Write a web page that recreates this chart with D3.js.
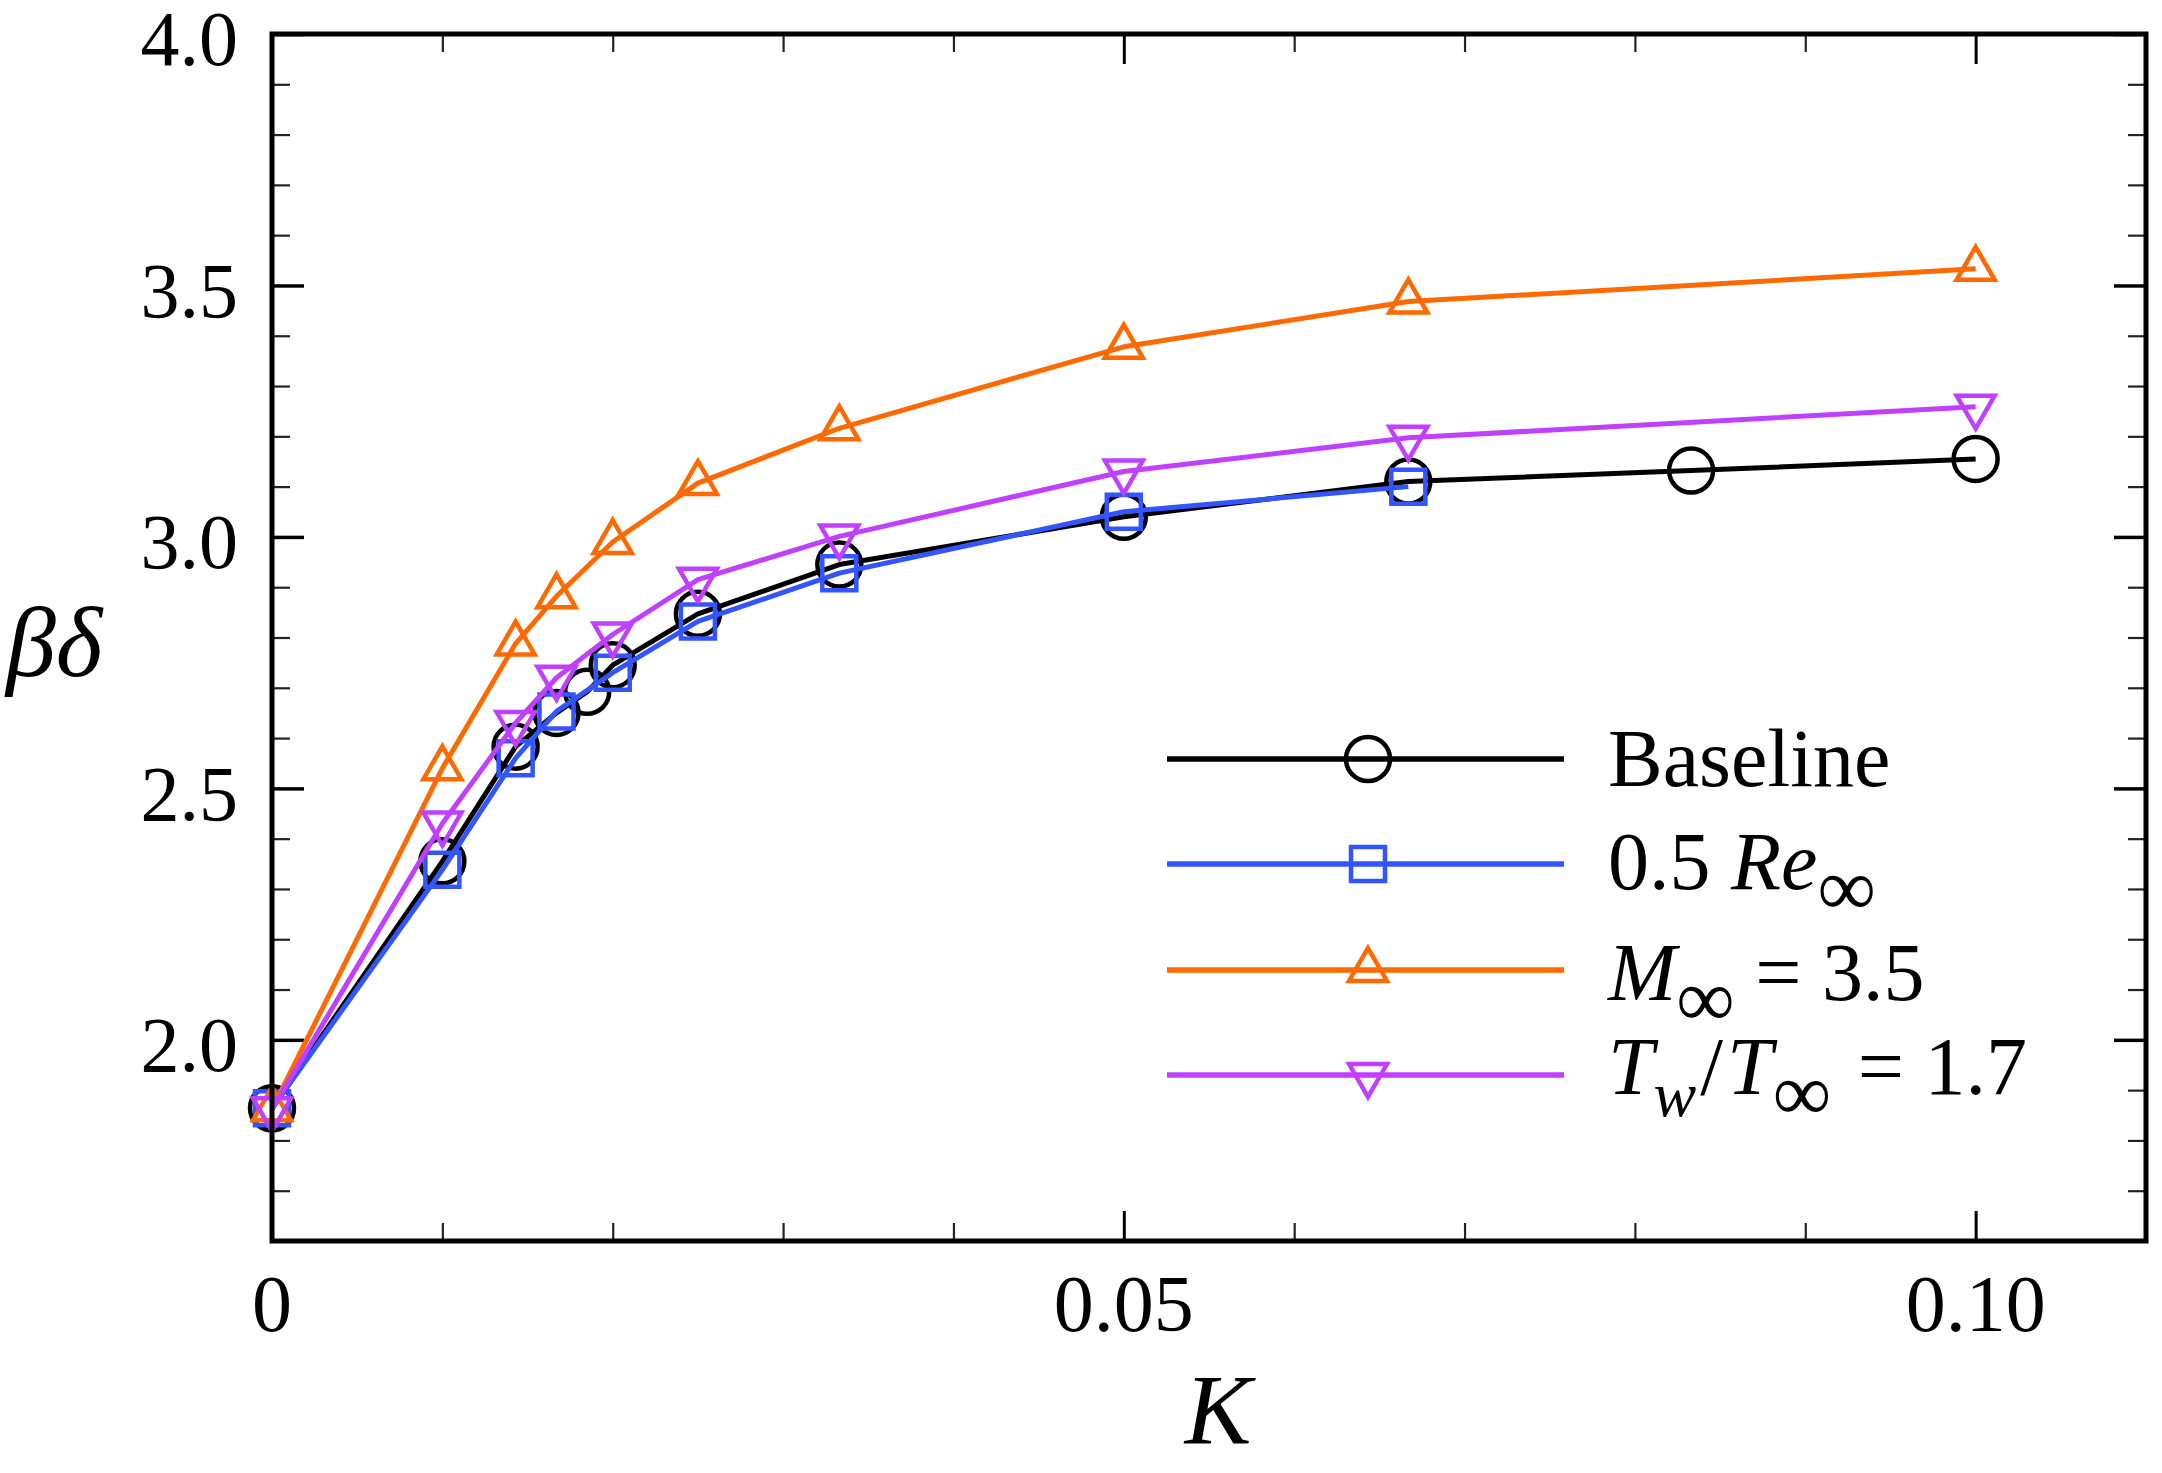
<!DOCTYPE html>
<html>
<head>
<meta charset="utf-8">
<script src="https://cdn.jsdelivr.net/npm/d3@7"></script>
<style>
  body { margin: 0; background: #fff; }
  text { font-family: "Liberation Serif", "Times New Roman", serif; fill: #000; }
</style>
</head>
<body>
<div id="chart"></div>
<script>
// curvature parameter K for each case
const kBaseline = [0, 0.01, 0.0143, 0.0167, 0.0185, 0.02, 0.025, 0.0333, 0.05, 0.0667, 0.0833, 0.1];
const vBaseline = [1.864, 2.355, 2.583, 2.650, 2.692, 2.745, 2.847, 2.945, 3.040, 3.110, 3.132, 3.155];

const kHalfRe = [0, 0.01, 0.0143, 0.0167, 0.02, 0.025, 0.0333, 0.05, 0.0667];
const vHalfRe = [1.864, 2.338, 2.560, 2.653, 2.730, 2.832, 2.928, 3.050, 3.100];

const kMach = [0, 0.01, 0.0143, 0.0167, 0.02, 0.025, 0.0333, 0.05, 0.0667, 0.1];
const vMach = [1.862, 2.540, 2.788, 2.882, 2.990, 3.107, 3.216, 3.378, 3.468, 3.533];

const kWall = [0, 0.01, 0.0143, 0.0167, 0.02, 0.025, 0.0333, 0.05, 0.0667, 0.1];
const vWall = [1.862, 2.430, 2.630, 2.720, 2.806, 2.915, 3.001, 3.130, 3.197, 3.259];

const xTickLabels = ["0", "0.05", "0.10"];
const yTickLabels = ["2.0", "2.5", "3.0", "3.5", "4.0"];

const series = [
    { k: kBaseline, v: vBaseline, color: "#000000", marker: "circle" },
    { k: kHalfRe, v: vHalfRe, color: "#3355ff", marker: "square" },
    { k: kMach, v: vMach, color: "#ff6a00", marker: "up" },
    { k: kWall, v: vWall, color: "#c040ff", marker: "down" }
];

const W = 2162, H = 1473;
const plot = { left: 272, right: 2146, top: 34, bottom: 1241 };

const svg = d3.select("#chart").append("svg")
    .attr("width", W)
    .attr("height", H);

const x = d3.scaleLinear().domain([0, 0.11]).range([plot.left, plot.right]);
const y = d3.scaleLinear().domain([1.6, 4.0]).range([plot.bottom, plot.top]);

// ticks, all pointing inward
const xMajor = [0, 0.05, 0.1];
const xMinor = d3.range(1, 11).map(i => i / 100).filter(v => Math.abs(v - 0.05) > 1e-9 && Math.abs(v - 0.1) > 1e-9);
const yMajor = [2.0, 2.5, 3.0, 3.5, 4.0];
const yMinor = d3.range(17, 40).map(i => i / 10).filter(v => Math.abs(v * 2 - Math.round(v * 2)) > 1e-9);

function tickGroup(axis, transform, width, color) {
    const g = svg.append("g").attr("transform", transform).call(axis);
    g.select(".domain").remove();
    g.selectAll(".tick line").attr("stroke", color).attr("stroke-width", width);
    g.selectAll(".tick text").remove();
    return g;
}

tickGroup(d3.axisBottom(x).tickValues(xMinor).tickSizeInner(-18).tickSizeOuter(0), `translate(0,${plot.bottom})`, 2.2, "#222");
tickGroup(d3.axisTop(x).tickValues(xMinor).tickSizeInner(-18).tickSizeOuter(0), `translate(0,${plot.top})`, 2.2, "#222");
tickGroup(d3.axisBottom(x).tickValues(xMajor).tickSizeInner(-30).tickSizeOuter(0), `translate(0,${plot.bottom})`, 3, "#000");
tickGroup(d3.axisTop(x).tickValues(xMajor).tickSizeInner(-30).tickSizeOuter(0), `translate(0,${plot.top})`, 3, "#000");
tickGroup(d3.axisLeft(y).tickValues(yMinor).tickSizeInner(-18).tickSizeOuter(0), `translate(${plot.left},0)`, 2.2, "#222");
tickGroup(d3.axisRight(y).tickValues(yMinor).tickSizeInner(-18).tickSizeOuter(0), `translate(${plot.right},0)`, 2.2, "#222");
tickGroup(d3.axisLeft(y).tickValues(yMajor).tickSizeInner(-32).tickSizeOuter(0), `translate(${plot.left},0)`, 3.5, "#000");
tickGroup(d3.axisRight(y).tickValues(yMajor).tickSizeInner(-32).tickSizeOuter(0), `translate(${plot.right},0)`, 3.5, "#000");

// tick labels
svg.append("g").selectAll("text")
    .data(xMajor)
    .enter().append("text")
    .attr("x", d => x(d))
    .attr("y", 1331)
    .attr("text-anchor", "middle")
    .style("font-size", "80px")
    .text((d, i) => xTickLabels[i]);

svg.append("g").selectAll("text")
    .data(yMajor)
    .enter().append("text")
    .attr("x", 238)
    .attr("y", d => y(d))
    .attr("dy", "0.4em")
    .attr("text-anchor", "end")
    .style("font-size", "78px")
    .text((d, i) => yTickLabels[i]);

// axis titles
svg.append("text")
    .attr("x", 1218)
    .attr("y", 1443)
    .attr("text-anchor", "middle")
    .style("font-size", "100px")
    .style("font-style", "italic")
    .text("K");

svg.append("text")
    .attr("x", 6)
    .attr("y", 676)
    .style("font-size", "100px")
    .style("font-style", "italic")
    .text("βδ");

// markers
function markerPath(type) {
    if (type === "square") {
        const h = 17;
        return `M${-h},${-h}H${h}V${h}H${-h}Z`;
    }
    if (type === "up" || type === "down") {
        const s = 38;
        const a = s / Math.sqrt(3), b = s / (2 * Math.sqrt(3));
        return type === "up"
            ? `M0,${-a}L${s / 2},${b}L${-s / 2},${b}Z`
            : `M0,${a}L${s / 2},${-b}L${-s / 2},${-b}Z`;
    }
    return null;
}

function drawMarker(g, type, color, cx, cy) {
    if (type === "circle") {
        g.append("circle")
            .attr("cx", cx).attr("cy", cy).attr("r", 22)
            .attr("fill", "none").attr("stroke", color).attr("stroke-width", 4.5);
    } else {
        g.append("path")
            .attr("d", markerPath(type))
            .attr("transform", `translate(${cx},${cy})`)
            .attr("fill", "none").attr("stroke", color).attr("stroke-width", 4.5)
            .attr("stroke-linejoin", "miter");
    }
}

const line = d3.line()
    .x(d => x(d[0]))
    .y(d => y(d[1]));

series.forEach(s => {
    const pts = s.k.map((k, i) => [k, s.v[i]]);
    const g = svg.append("g");
    g.append("path")
        .datum(pts)
        .attr("fill", "none")
        .attr("stroke", s.color)
        .attr("stroke-width", 5)
        .attr("stroke-linejoin", "round")
        .attr("d", line);
    pts.forEach(p => drawMarker(g, s.marker, s.color, x(p[0]), y(p[1])));
});

// frame
svg.append("rect")
    .attr("x", plot.left)
    .attr("y", plot.top)
    .attr("width", plot.right - plot.left)
    .attr("height", plot.bottom - plot.top)
    .attr("fill", "none")
    .attr("stroke", "#000")
    .attr("stroke-width", 5);

// legend
const legendRows = [759, 864, 970, 1075];
const legendBase = [786, 889, 1000, 1094];
const legend = svg.append("g");
series.forEach((s, i) => {
    legend.append("line")
        .attr("x1", 1167).attr("x2", 1564)
        .attr("y1", legendRows[i]).attr("y2", legendRows[i])
        .attr("stroke", s.color).attr("stroke-width", 5.5);
    drawMarker(legend, s.marker, s.color, 1368, legendRows[i]);
});

function legendText(i) {
    return legend.append("text")
        .attr("x", 1608)
        .attr("y", legendBase[i])
        .style("font-size", "82px");
}

legendText(0).text("Baseline");

const t1 = legendText(1);
t1.append("tspan").text("0.5 ");
t1.append("tspan").style("font-style", "italic").text("Re");
t1.append("tspan").attr("dy", 26).style("font-size", "82px").text("∞");

const t2 = legendText(2);
t2.append("tspan").style("font-style", "italic").text("M");
t2.append("tspan").attr("dy", 26).style("font-size", "82px").text("∞");
t2.append("tspan").attr("dy", -26).text(" = 3.5");

const t3 = legendText(3);
t3.append("tspan").style("font-style", "italic").text("T");
t3.append("tspan").attr("dy", 22).style("font-size", "64px").style("font-style", "italic").text("w");
t3.append("tspan").attr("dy", -22).attr("dx", 4).text("/");
t3.append("tspan").attr("dx", 4).style("font-style", "italic").text("T");
t3.append("tspan").attr("dy", 26).style("font-size", "82px").text("∞");
t3.append("tspan").attr("dy", -26).attr("dx", 6).text(" = 1.7");
</script>
</body>
</html>
